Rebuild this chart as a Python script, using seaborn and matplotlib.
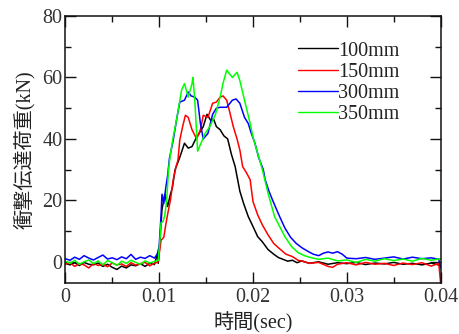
import numpy as np
import pandas as pd
import matplotlib
matplotlib.use("Agg")
import matplotlib.pyplot as plt
from matplotlib.ticker import MultipleLocator, FuncFormatter
import seaborn as sns

series_names = ["100mm", "150mm", "300mm", "350mm"]
series_colors = ["#000000", "#ff0000", "#0000ff", "#00ff00"]

pre_t = [0, .0005, .001, .0015, .002, .0025, .003, .0035, .004, .0045,
         .005, .0055, .006, .0065, .007, .0075, .008, .0085, .009, .0095]

# 100mm (black)
t_100 = pre_t + [.0098, .0099, .0100, .0103, .0106, .0109, .0112, .0114, .0117, .0122,
                 .0127, .0131, .0135, .0139, .0143, .0147, .0151, .0155, .0158, .0161,
                 .0165, .0169, .0173, .0177, .0181, .0186, .0190, .0195, .0200, .0205,
                 .0210, .0216, .0222, .0227, .0232, .0237, .0242, .0247, .0252, .026,
                 .027, .028, .029, .030, .031, .032, .033, .034, .035, .036,
                 .037, .038, .039, .040]
v_100 = [-0.5, -1.0, -0.3, -1.2, -0.2, -0.8, -1.0, -0.4, -1.5, -0.8,
         -1.8, -2.5, -1.4, -2.0, -1.0, -1.3, -0.6, -1.5, -0.5, -0.9,
         2.5, -0.5, 3.0, 17, 22, 18, 22, 24, 30, 34,
         38.6, 37, 37.5, 40, 42, 44, 48, 46, 46.5, 44,
         43, 41, 40, 35, 31, 23, 19, 14.7, 11.5, 8.2,
         6.5, 4.0, 2.5, 1.4, 0.8, 0.2, 0.5, -0.3, 0.3, -0.5,
         0.0, -0.8, -0.3, -0.6, -0.2, -0.9, -0.4, -0.7, -0.2, -0.8,
         -0.5, -1.0, -0.4, -1.2]

# 150mm (red)
t_150 = pre_t + [.0099, .0102, .0105, .0107, .0110, .0112, .0115, .0118, .0120, .0122,
                 .0125, .0128, .0131, .0135, .0140, .0144, .0147, .0152, .0157, .0161,
                 .0165, .0168, .0172, .0175, .0179, .0183, .0186, .0189, .0193, .0197,
                 .0200, .0205, .0210, .0216, .0222, .0227, .0235, .0242, .0248, .0255,
                 .026, .027, .028, .0285, .029, .030, .031, .032, .033, .034,
                 .035, .036, .037, .038, .039, .0398, .040]
v_150 = [-0.8, -0.3, -1.5, -0.6, -1.0, -2.0, -0.5, -1.2, -0.8, -1.6,
         -0.4, -1.0, -0.7, -1.5, -0.3, -1.1, -0.6, -0.2, -1.3, -0.5,
         0.0, 7, 8, 12, 17, 20, 26.7, 31, 33, 39.6,
         44, 47.7, 47, 43, 40, 43, 47.7, 47, 51.6, 52,
         53.6, 54, 52.6, 49, 44, 40, 36.4, 31, 29, 26.7,
         19.6, 15.3, 12, 8.8, 6, 4.6, 2.5, 1.7, 0.5, 0.0,
         -0.5, -0.2, -1.5, -1.8, -0.8, -0.3, -1.0, -0.2, -0.8, -0.5,
         -1.2, -0.4, -0.9, -0.3, -1.4, -0.5, -7.0]

# 300mm (blue)
t_300 = pre_t + [.0098, .0100, .0102, .0103, .0105, .0107, .0109, .0111, .0115, .0119,
                 .0122, .0127, .0131, .0134, .0138, .0141, .0144, .0147, .0152, .0157,
                 .0161, .0165, .0172, .0178, .0182, .0186, .0191, .0195, .0198, .0202,
                 .0206, .0211, .0213, .0217, .0221, .0228, .0234, .0240, .0246, .0252,
                 .0258, .0264, .027, .0275, .028, .0285, .029, .0295, .030, .031,
                 .032, .033, .034, .035, .036, .037, .038, .039, .0398, .040]
v_300 = [1.0, 0.5, 1.5, 0.8, 2.0, 1.2, 0.6, 1.4, 2.2, 0.9,
         1.3, 0.7, 1.6, 1.0, 2.4, 0.8, 1.5, 1.1, 2.0, 1.2,
         2.5, 5, 15, 22, 19, 24, 28, 33.7, 39.6, 47,
         52, 52.6, 55.3, 54, 53.6, 52.6, 45, 40, 41.8, 48,
         50, 50.3, 50.3, 52.6, 53, 51.6, 47, 45, 42, 38.7,
         34, 30, 26.7, 23, 20, 15, 11, 8, 6, 4.6,
         3.5, 2.5, 2.0, 2.8, 3.2, 2.8, 3.3, 2.5, 1.2, 1.0,
         1.4, 0.8, 1.2, 1.6, 0.9, 1.5, 1.0, 1.3, 0.8, -2.0]

# 350mm (green)
t_350 = pre_t + [.0099, .0101, .0102, .0104, .0106, .0108, .0110, .0112, .0115, .0119,
                 .0124, .0127, .0131, .0135, .0136, .0138, .0141, .0146, .0149, .0154,
                 .0160, .0165, .0168, .0172, .0178, .0183, .0186, .0191, .0197, .0200,
                 .0205, .0210, .0216, .0223, .0234, .0241, .0248, .0255, .026, .027,
                 .028, .029, .030, .031, .032, .033, .034, .035, .036, .037,
                 .038, .039, .040]
v_350 = [0.2, -0.5, 0.5, -0.8, 0.0, 0.6, -0.6, 0.3, -1.0, 0.4,
         -0.3, -1.2, 0.2, -0.5, 0.5, -0.2, -0.8, 0.3, -0.4, 0.1,
         0.5, 7.8, 12.7, 13, 15, 20, 30, 35, 40.6, 47,
         56, 58, 53.6, 58, 60, 52.6, 36, 39.6, 41.8, 44,
         48, 53.6, 58, 62.4, 60, 61.7, 59, 52.6, 45, 40.6,
         35.4, 30, 22.4, 14.7, 8.2, 5, 3, 2, 1.5, 0.8,
         1.2, 0.3, 0.6, -0.2, 0.8, 0.2, 1.0, 0.4, 0.9, 0.2,
         1.1, 0.5, 1.0]

x_ticks = [0, 0.01, 0.02, 0.03, 0.04]
y_ticks = [0, 20, 40, 60, 80]

frames = []
for name, tt, vv in zip(series_names, [t_100, t_150, t_300, t_350], [v_100, v_150, v_300, v_350]):
    frames.append(pd.DataFrame({"t": tt, "v": vv, "series": name}))
df = pd.concat(frames, ignore_index=True)

sns.set_theme(style="ticks")
plt.rcParams["font.family"] = ["Liberation Serif", "Noto Sans CJK JP"]
plt.rcParams["axes.unicode_minus"] = False

FS = 14.5
fig = plt.figure(figsize=(4.59, 3.34), dpi=100)
ax = fig.add_axes([0.1423, 0.1518, 0.8177, 0.8002])

sns.lineplot(data=df, x="t", y="v", hue="series", hue_order=series_names,
             palette=series_colors, estimator=None, sort=False, linewidth=1.1,
             ax=ax, legend=True)

ax.set_xlim(0, 0.04)
ax.set_ylim(-7, 80)
ax.set_xticks(x_ticks)
ax.set_yticks(y_ticks)
ax.xaxis.set_minor_locator(MultipleLocator(0.005))
ax.yaxis.set_minor_locator(MultipleLocator(10))
ax.xaxis.set_major_formatter(FuncFormatter(lambda x, p: f"{x:g}"))
ax.tick_params(which="both", direction="in", top=True, right=True,
               labelsize=FS, labelcolor="#333333", color="#111111", width=1.0)
ax.tick_params(which="major", length=8)
ax.tick_params(which="minor", length=4.5)
ax.tick_params(axis="x", which="major", pad=3.5)
ax.tick_params(axis="y", which="major", pad=2)
for s in ax.spines.values():
    s.set_linewidth(1.1)
    s.set_color("#111111")

ax.set_xlabel("時間(sec)", fontsize=FS, color="#222222", labelpad=3.5)
ax.set_ylabel("衝撃伝達荷重(kN)", fontsize=FS, color="#222222", labelpad=5.5)

handles, labels = ax.get_legend_handles_labels()
leg = ax.legend(handles, labels, loc="upper left", bbox_to_anchor=(0.62, 0.905),
                frameon=False, fontsize=FS, handlelength=2.0, handletextpad=0.0,
                labelspacing=0.1, borderaxespad=0, borderpad=0)
for h in leg.get_lines():
    h.set_linewidth(1.0)
for txt in leg.get_texts():
    txt.set_color("#222222")

fig.savefig("out.png", dpi=100)
